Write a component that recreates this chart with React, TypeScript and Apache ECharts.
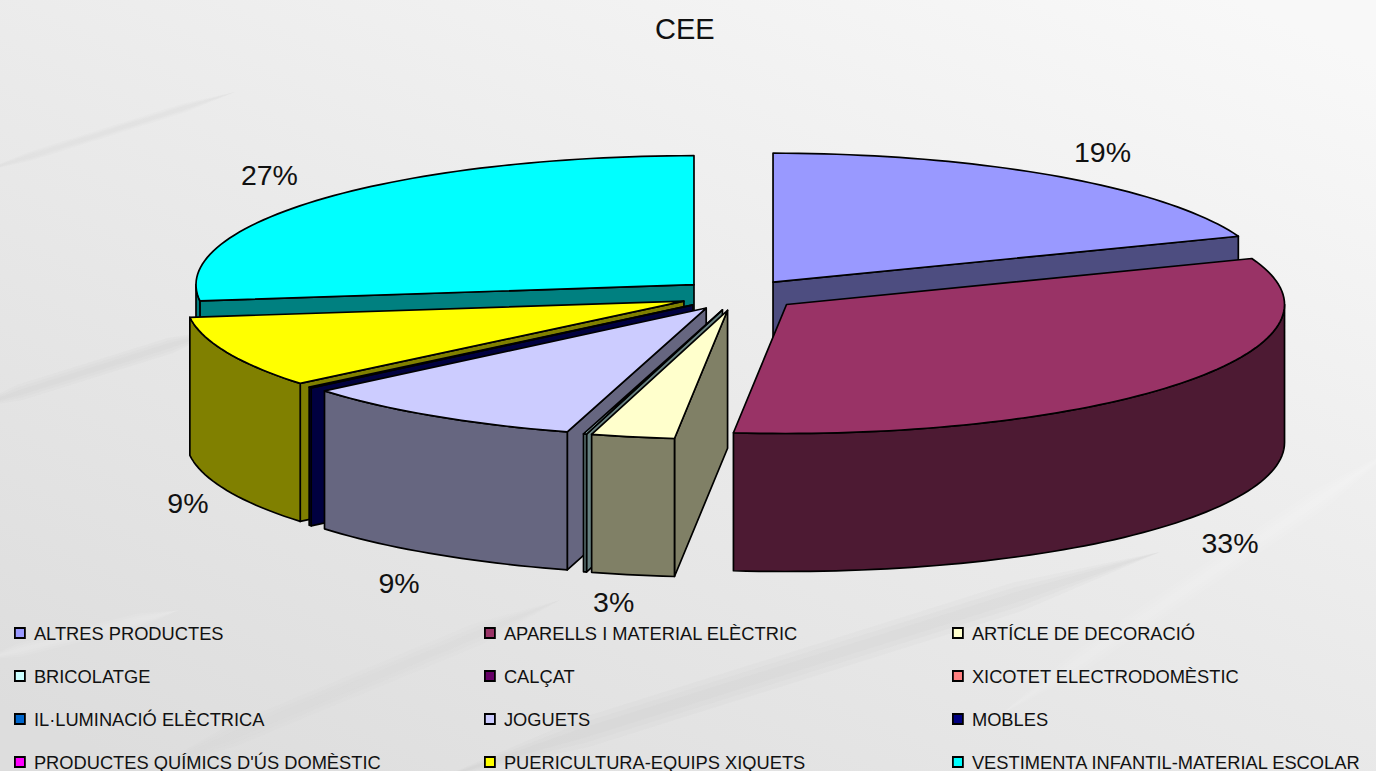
import React, { useEffect, useRef } from "react";
import * as echarts from "echarts";

const categories = [
  "ALTRES PRODUCTES",
  "APARELLS I MATERIAL ELÈCTRIC",
  "ARTÍCLE DE DECORACIÓ",
  "BRICOLATGE",
  "CALÇAT",
  "XICOTET ELECTRODOMÈSTIC",
  "IL·LUMINACIÓ ELÈCTRICA",
  "JOGUETS",
  "MOBLES",
  "PRODUCTES QUÍMICS D'ÚS DOMÈSTIC",
  "PUERICULTURA-EQUIPS XIQUETS",
  "VESTIMENTA INFANTIL-MATERIAL ESCOLAR",
];
const shares = [19.2, 32.5, 2.7, 0.1, 0, 0, 0, 9.4, 0.1, 0, 9.0, 27.0];
const topColors = ["#9999FF", "#993366", "#FFFFCC", "#CCFFFF", "#660066", "#FF8080", "#0066CC", "#CCCCFF", "#000080", "#FF00FF", "#FFFF00", "#00FFFF"];
const paintOrder = [11, 0, 10, 9, 8, 7, 6, 5, 4, 3, 2, 1];
const labelNudges: Record<number, [number, number]> = {
  0: [47, -24], 1: [49, 22], 2: [-19, 27], 7: [-35, 29], 10: [-39, 13], 11: [-51, -24],
};

const CX = 739, CY = 295, RX = 498, RY = 129, DEPTH = 138, EXPLODE = 60;
const FONT = '"Liberation Sans", Arial, sans-serif';
const total = shares.reduce((a, b) => a + b, 0);
const rad = (d: number) => (d * Math.PI) / 180;
const starts: number[] = [];
shares.reduce((acc, v, i) => { starts[i] = acc; return acc + (v / total) * 360; }, 0);

function darken(hex: string) {
  const n = parseInt(hex.slice(1), 16);
  const c = (s: number) => Math.round(((n >> s) & 255) / 2);
  return `rgb(${c(16)},${c(8)},${c(0)})`;
}

function sliceRender(i: number) {
  return (_p: any, api: any) => {
    const value = api.value(0);
    if (!value) return null;
    const a0 = starts[i];
    const a1 = a0 + (value / total) * 360;
    const mid = (a0 + a1) / 2;
    const ax = CX + EXPLODE * Math.sin(rad(mid));
    const ay = CY - EXPLODE * (RY / RX) * Math.cos(rad(mid));
    const rim = (a: number): [number, number] => [ax + RX * Math.sin(rad(a)), ay - RY * Math.cos(rad(a))];
    const arc = (from: number, to: number) => {
      const steps = Math.max(2, Math.ceil((to - from) / 1.5));
      const pts: [number, number][] = [];
      for (let k = 0; k <= steps; k++) pts.push(rim(from + ((to - from) * k) / steps));
      return pts;
    };
    const drop = (p: [number, number]): [number, number] => [p[0], p[1] + DEPTH];
    const top = topColors[i];
    const side = darken(top);
    const style = (fill: string) => ({ fill, stroke: "#000", lineWidth: 1.7, lineJoin: "round" });
    const face = (a: number) => {
      const r = rim(a);
      return { type: "polygon", shape: { points: [[ax, ay], r, drop(r), drop([ax, ay])] }, style: style(side) };
    };
    const children: any[] = [];
    if (a0 > 180 && a0 < 360) children.push(face(a0));
    if (a1 > 0 && a1 < 180) children.push(face(a1));
    const w0 = Math.max(a0, 90), w1 = Math.min(a1, 270);
    if (w1 > w0) {
      const edge = arc(w0, w1);
      children.push({ type: "polygon", shape: { points: [...edge, ...edge.slice().reverse().map(drop)] }, style: style(side) });
    }
    children.push({ type: "polygon", shape: { points: [[ax, ay], ...arc(a0, a1)] }, style: style(top) });
    const nudge = labelNudges[i];
    if (nudge && Math.round(value) >= 1) {
      const r = rim(mid);
      const lower = mid > 90 && mid < 270;
      children.push({
        type: "text",
        style: {
          text: `${Math.round(value)}%`, x: r[0] + nudge[0], y: r[1] + (lower ? DEPTH : 0) + nudge[1],
          fill: "#111", font: `28.5px ${FONT}`, textAlign: "center", textVerticalAlign: "middle",
        },
      });
    }
    return { type: "group", children };
  };
}

const legendColumn = (left: number, names: string[]) => ({
  left, top: 624, height: 300, orient: "vertical", padding: 0, itemWidth: 10, itemHeight: 10, itemGap: 25, icon: "rect",
  data: names, selectedMode: false,
  itemStyle: { borderColor: "#000", borderWidth: 1.8 },
  textStyle: { color: "#111", fontFamily: FONT, fontSize: 18.3, lineHeight: 18, padding: [0, 0, 0, 4] },
});

// Soft, tapered background streaks: stacked spindles that imitate a blur.
const band = (x1: number, y1: number, x2: number, y2: number, w: number, color: string, op: number) =>
  [1, 0.66, 0.33].map((k) => {
    const dx = x2 - x1, dy = y2 - y1, len = Math.hypot(dx, dy);
    const nx = (-dy / len) * (w * k) / 2, ny = (dx / len) * (w * k) / 2;
    const at = (t: number, s: number) => [x1 + dx * t + nx * s, y1 + dy * t + ny * s];
    return {
      type: "polygon", z: -5, silent: true,
      shape: { points: [at(0, 0), at(0.2, 1), at(0.8, 1), at(1, 0), at(0.8, -1), at(0.2, -1)] },
      style: { fill: color, opacity: op },
    };
  });

export default function App() {
  const ref = useRef<HTMLDivElement>(null);
  useEffect(() => {
    document.body.style.margin = "0";
    const chart = echarts.init(ref.current!, undefined, { renderer: "svg" });
    chart.setOption({
      animation: false,
      backgroundColor: new echarts.graphic.LinearGradient(0.1, 1, 0.9, 0, [
        { offset: 0, color: "#dddddd" },
        { offset: 0.5, color: "#eaeaea" },
        { offset: 1, color: "#f8f8f8" },
      ]),
      title: {
        text: "CEE", left: 655, top: 14, padding: 0, itemGap: 0,
        textStyle: { fontFamily: FONT, fontSize: 29, fontWeight: "normal", color: "#111" },
      },
      legend: [
        legendColumn(14, [categories[0], categories[3], categories[6], categories[9]]),
        legendColumn(484, [categories[1], categories[4], categories[7], categories[10]]),
        legendColumn(952, [categories[2], categories[5], categories[8], categories[11]]),
      ],
      graphic: [
        ...band(-20, 172, 235, 92, 9, "#d0d0d0", 0.08),
        ...band(-30, 408, 220, 330, 16, "#c4c4c4", 0.11),
        ...band(440, 778, 1160, 552, 30, "#c8c8c8", 0.1),
        ...band(150, 770, 560, 600, 22, "#c8c8c8", 0.06),
        ...band(1000, 715, 1400, 445, 22, "#ffffff", 0.07),
        ...band(-20, 660, 180, 610, 14, "#ffffff", 0.07),
      ],
      series: categories.map((name, i) => ({
        type: "custom", name, coordinateSystem: "none", silent: true,
        z: 10 + paintOrder.indexOf(i),
        itemStyle: { color: topColors[i] },
        data: [[shares[i]]],
        renderItem: sliceRender(i),
      })),
    });
    return () => chart.dispose();
  }, []);
  return <div ref={ref} style={{ position: "fixed", left: 0, top: 0, width: 1376, height: 771 }} />;
}
